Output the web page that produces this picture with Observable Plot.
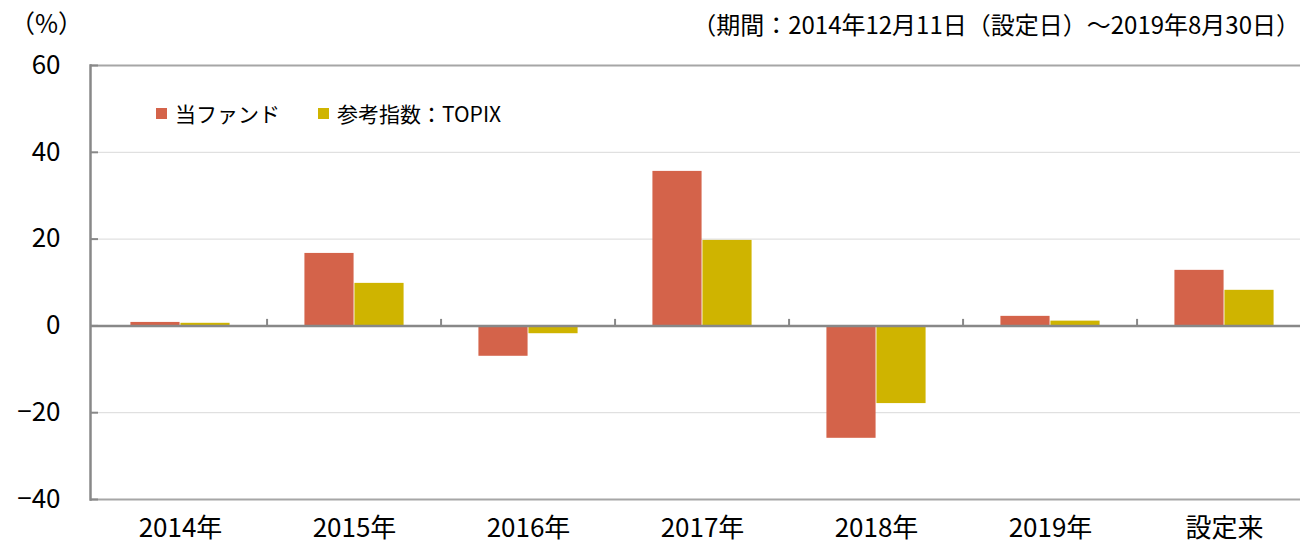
<!DOCTYPE html>
<html><head><meta charset="utf-8">
<script src="https://cdn.jsdelivr.net/npm/d3@7"></script>
<script src="https://cdn.jsdelivr.net/npm/@observablehq/plot@0.6"></script>
<style>
html,body{margin:0;padding:0;background:#fff;overflow:hidden;}
body{font-family:"Noto Sans CJK JP","Noto Sans",sans-serif;color:#000;}
#wrap{position:relative;width:1300px;height:548px;overflow:hidden;}
.ann{position:absolute;white-space:nowrap;line-height:1;}
#unit{left:10px;top:10px;font-size:25px;}
#period{right:0px;top:12px;font-size:24px;}
#legend{left:156px;top:103px;font-size:21px;display:flex;align-items:center;}
#legend .item{display:flex;align-items:center;margin-right:38px;}
#legend .sw{width:11px;height:11px;margin-right:8px;}
svg{position:absolute;left:0;top:0;max-width:none !important;}
</style></head><body>
<div id="wrap">
<div class="ann" id="unit">（%）</div>
<div class="ann" id="period">（期間：2014年12月11日（設定日）～2019年8月30日）</div>
<div class="ann" id="legend"></div>
</div>
<script>
// ---- data ----
const categories = ["2014年","2015年","2016年","2017年","2018年","2019年","設定来"];
const seriesNames = ["当ファンド","参考指数：TOPIX"];
const fundValues = [0.8, 16.7, -7.0, 35.6, -25.9, 2.2, 12.8];
const topixValues = [0.6, 9.8, -1.8, 19.7, -17.9, 1.1, 8.2];
const yTicks = [-40, -20, 0, 20, 40, 60];
const seriesColors = ["#D4634A", "#CFB400"];

// ---- table ----
const rows = [];
categories.forEach((c, i) => {
  rows.push({cat: c, series: seriesNames[0], value: fundValues[i]});
  rows.push({cat: c, series: seriesNames[1], value: topixValues[i]});
});

const W = 1314, H = 548, ML = 90, MR = 0, MT = 65, MB = 49;
const bw = (W - ML - MR) / categories.length;
const barW = bw * 0.286;

const chart = Plot.plot({
  width: W, height: H,
  marginLeft: ML, marginRight: MR, marginTop: MT, marginBottom: MB,
  style: {fontFamily: '"Noto Sans CJK JP","Noto Sans",sans-serif', background: "transparent", maxWidth: "none"},
  x: {domain: categories, padding: 0, label: null},
  y: {domain: [-40, 60], label: null},
  color: {domain: seriesNames, range: seriesColors},
  marks: [
    Plot.ruleY([-20, 20, 40], {stroke: "#d9d9d9", strokeWidth: 1}),
    Plot.ruleY([60, -40], {stroke: "#a6a6a6", strokeWidth: 2}),
    Plot.barY(rows.filter(d => d.series === seriesNames[0]), {
      x: "cat", y: "value", fill: "series",
      insetLeft: bw / 2 - barW, insetRight: bw / 2
    }),
    Plot.barY(rows.filter(d => d.series === seriesNames[1]), {
      x: "cat", y: "value", fill: "series",
      insetLeft: bw / 2, insetRight: bw / 2 - barW
    }),
    Plot.ruleY([0], {stroke: "#888", strokeWidth: 2.5}),
    Plot.ruleX(categories.slice(1), {x: d => d, y1: 0, y2: 1.5, dx: -bw / 2, stroke: "#888", strokeWidth: 2}),
    Plot.frame({anchor: "left", stroke: "#888", strokeWidth: 2.5}),
    Plot.axisY({ticks: yTicks, tickSize: -8, stroke: "#888", strokeWidth: 2, text: null, strokeOpacity: 1}),
    Plot.axisY({ticks: yTicks, tickSize: 0, tickPadding: 30, fontSize: 26, fill: "#000"}),
    Plot.axisX({tickSize: 0, tickPadding: 19, fontSize: 26, fill: "#000"})
  ]
});
document.getElementById("wrap").appendChild(chart);

// legend
const leg = document.getElementById("legend");
seriesNames.forEach((s, i) => {
  const item = document.createElement("span");
  item.className = "item";
  const sw = document.createElement("span");
  sw.className = "sw";
  sw.style.background = seriesColors[i];
  const t = document.createElement("span");
  t.textContent = s;
  item.appendChild(sw); item.appendChild(t);
  leg.appendChild(item);
});
</script>
</body></html>
